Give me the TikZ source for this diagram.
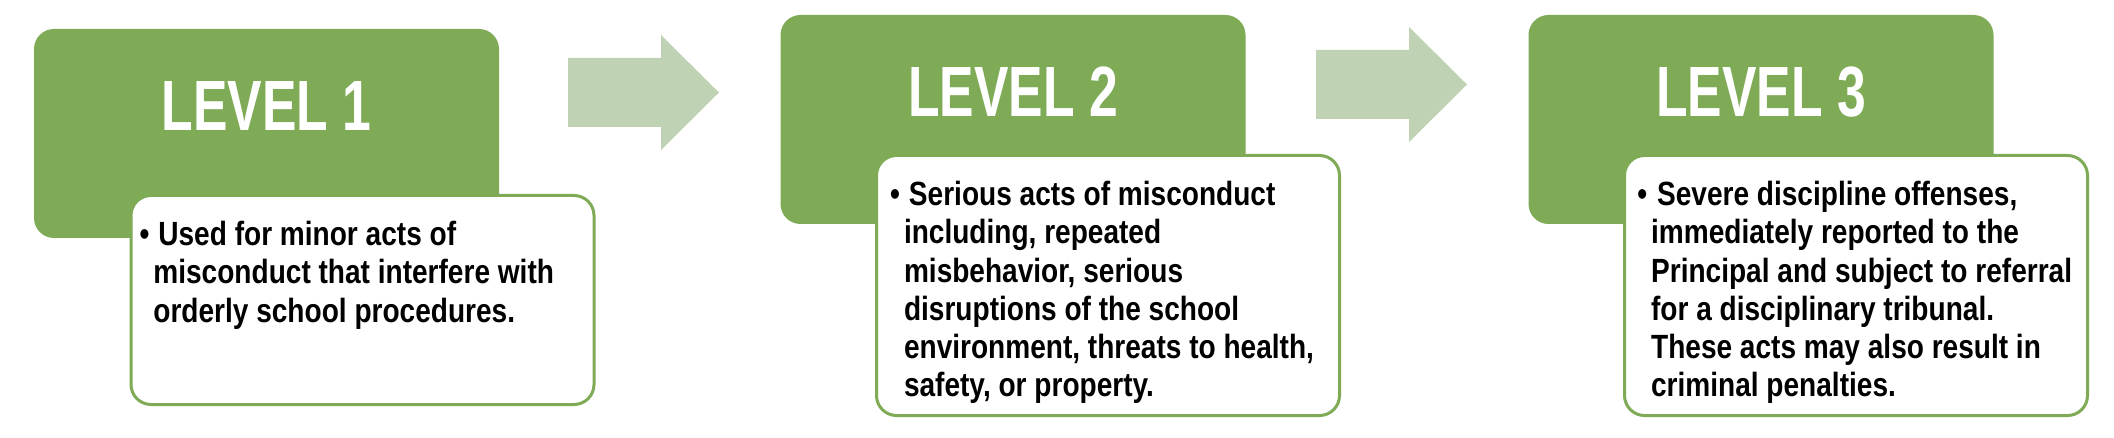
\documentclass[tikz,border=0pt]{standalone}
\usepackage{fontspec}
\newfontfamily\titlefont{Liberation Sans}[FakeStretch=0.726]
\newfontfamily\bodyfont{Liberation Sans}[FakeStretch=0.835]
\definecolor{levelgreen}{RGB}{127,171,87}
\definecolor{arrowgreen}{RGB}{191,211,180}
\newcommand{\firstline}{\rule{0pt}{13pt}\llap{\textbullet\hspace{2pt}}}

\begin{document}
\begin{tikzpicture}[x=0.5pt,y=-0.5pt,
    levelbox/.style={fill=levelgreen, rounded corners=10pt, inner sep=0pt,
      minimum width=232.5pt, minimum height=104.5pt},
    notebox/.style={draw=levelgreen, line width=1.5pt, fill=white,
      rounded corners=10pt, inner sep=0pt, minimum width=231.5pt},
    leveltitle/.style={text=white, anchor=base, inner sep=0pt,
      font=\titlefont\bfseries\fontsize{35.6}{40}\selectfont},
    notetext/.style={anchor=north west, align=left, inner sep=0pt,
      font=\bodyfont\bfseries\fontsize{16.8}{19.15}\selectfont},
    steparrow/.style={fill=arrowgreen}]
  \useasboundingbox (0,0) rectangle (2114,438);
  % level 1
  \node[levelbox] (lev1) at (266.5,133.5) {};
  \node[leveltitle] (title1) at (266.5,131) {LEVEL 1};
  \node[notebox, minimum height=104.5pt] (note1) at (362.5,300) {};
  \node[notetext] (text1) at (153,219) {\firstline\hspace{2.5pt}Used for minor acts of\\
    misconduct that interfere with\\
    orderly school procedures.};
  % level 2
  \node[levelbox] (lev2) at (1013,119.5) {};
  \node[leveltitle] (title2) at (1013,117) {LEVEL 2};
  \node[notebox, minimum height=130pt] (note2) at (1108,285.5) {};
  \node[notetext] (text2) at (903.6,179) {\firstline\hspace{2.5pt}Serious acts of misconduct\\
    including, repeated\\
    misbehavior, serious\\
    disruptions of the school\\
    environment, threats to health,\\
    safety, or property.};
  % level 3
  \node[levelbox] (lev3) at (1761,119.5) {};
  \node[leveltitle] (title3) at (1761,117) {LEVEL 3};
  \node[notebox, minimum height=130pt] (note3) at (1856,285.5) {};
  \node[notetext] (text3) at (1650.7,179) {\firstline\hspace{3pt}Severe discipline offenses,\\
    immediately reported to the\\
    Principal and subject to referral\\
    for a disciplinary tribunal.\\
    These acts may also result in\\
    criminal penalties.};
  % arrows between the levels
  \foreach \x/\y in {568/92.5,1316/84.5}{
    \fill[steparrow] (\x,{\y-34.5}) -- ++(93,0) -- ++(0,-23) -- ++(58,57.5)
      -- ++(-58,57.5) -- ++(0,-23) -- ++(-93,0) -- cycle;
  }
\end{tikzpicture}
\end{document}
